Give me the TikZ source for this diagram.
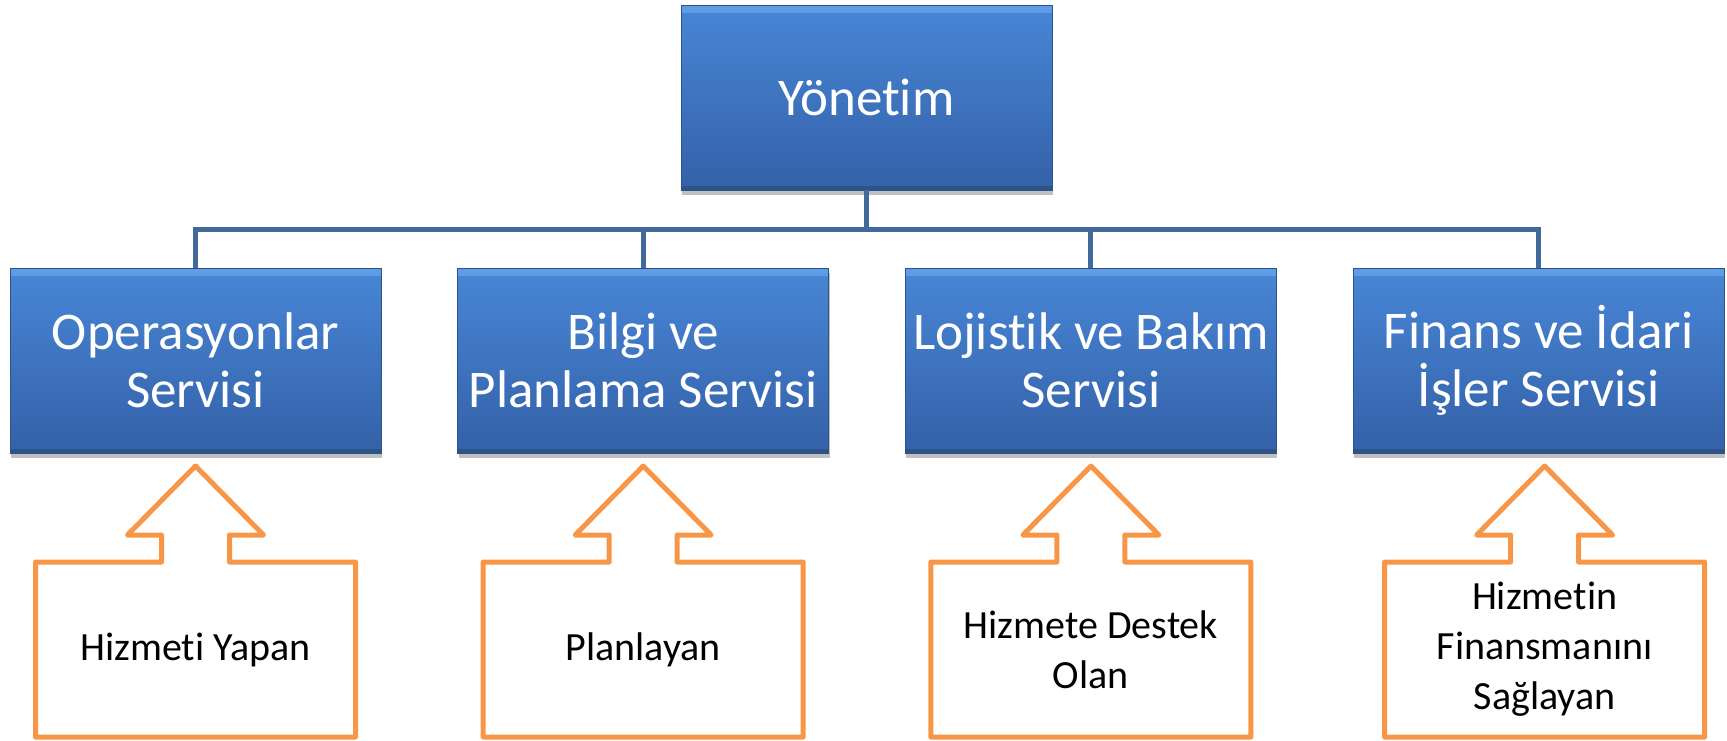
\documentclass[tikz,border=0pt]{standalone}
\usepackage{fontspec}
\setmainfont[Ligatures=NoCommon]{Carlito}
\usetikzlibrary{positioning}
\usetikzlibrary{shadows}
\definecolor{boxlight}{HTML}{6CA6EE}
\definecolor{boxtop}{HTML}{4886D6}
\definecolor{boxbottom}{HTML}{3461A8}
\definecolor{boxedge}{HTML}{2D5489}
\definecolor{busline}{HTML}{41699A}
\definecolor{jobline}{HTML}{F79646}
\newcommand{\upbox}[1]{%
  \draw[jobline, line width=5pt, line join=round] (#1.north west) -- ([xshift=-34pt]#1.north)
    -- ++(0,27) -- ++(-34,0) -- ([yshift=96pt]#1.north) -- ([xshift=68pt,yshift=27pt]#1.north)
    -- ++(-34,0) -- ([xshift=34pt]#1.north) -- (#1.north east) -- (#1.south east)
    -- (#1.south west) -- cycle;}

\begin{document}
\begin{tikzpicture}[x=1pt,y=1pt,
    svc/.style={rectangle, minimum width=371pt, minimum height=185pt, inner sep=2pt, outer sep=0pt,
      top color=boxtop, bottom color=boxbottom, draw=boxedge, line width=1pt, text=white,
      align=center, font={\fontsize{53pt}{58pt}\selectfont},
      drop shadow={shadow xshift=1pt, shadow yshift=-5pt, fill=black, opacity=0.25},
      path picture={
        \fill[boxlight, opacity=0.7] (path picture bounding box.north west) rectangle ([yshift=-8pt]path picture bounding box.north east);
        \fill[boxedge] (path picture bounding box.south west) rectangle ([yshift=4pt]path picture bounding box.south east);}},
    job/.style={rectangle, minimum width=320pt, minimum height=175pt, inner sep=2pt, outer sep=0pt,
      text=black, align=center, font={\fontsize{40pt}{50pt}\selectfont}}]
  \useasboundingbox (0,0) rectangle (1727,-740);
  \node[svc] (top) at (866.5,-97.5) {Yönetim};
  \node[svc] (ops) at (195.5,-360.5) {Operasyonlar\\Servisi};
  \node[svc, right=76.7pt of ops] (plan) {Bilgi ve\\Planlama Servisi};
  \node[svc, right=76.7pt of plan] (loj) {Lojistik ve Bakım\\Servisi};
  \node[svc, right=76.7pt of loj] (fin) {Finans ve İdari\\İşler Servisi};
  \node[job, below=109pt of ops] (opsjob) {Hizmeti Yapan};
  \node[job, below=109pt of plan] (planjob) {Planlayan};
  \node[job, below=109pt of loj] (lojjob) {Hizmete Destek\\Olan};
  \node[job, below=109pt of fin, xshift=6pt] (finjob) {Hizmetin\\Finansmanını\\Sağlayan};
  \coordinate (fork) at ([yshift=-39pt]top.south);
  \draw[busline, line width=5pt] (top.south) -- (fork);
  \foreach \n in {ops,plan,loj,fin}
    \draw[busline, line width=5pt] (fork) -| (\n.north);
  \foreach \n in {opsjob,planjob,lojjob,finjob}
    \upbox{\n};
\end{tikzpicture}
\end{document}
